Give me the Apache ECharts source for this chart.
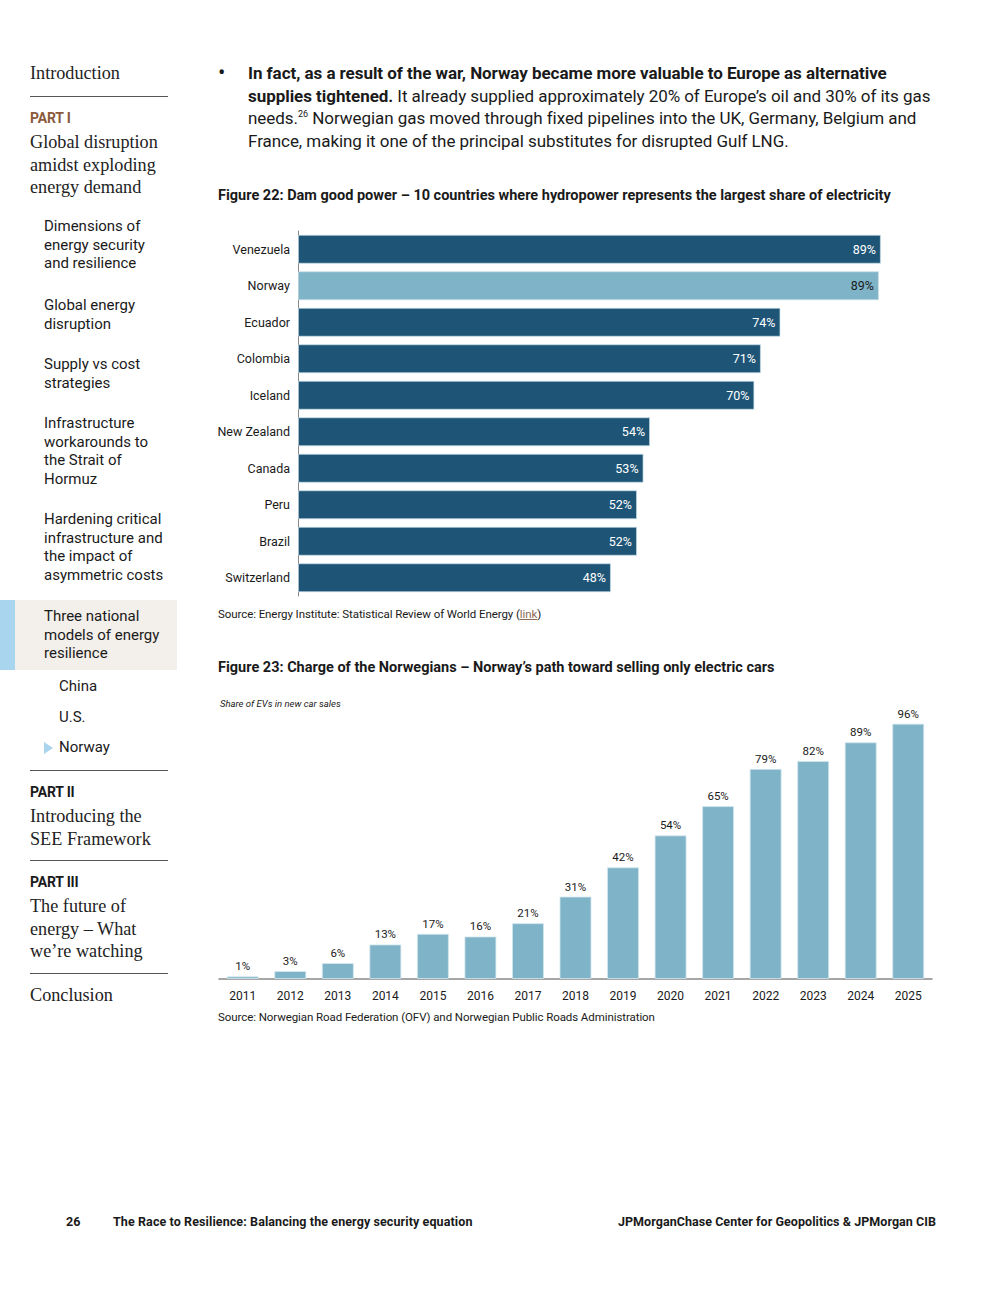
<!DOCTYPE html>
<html>
<head>
<meta charset="utf-8">
<script src="https://cdn.jsdelivr.net/npm/echarts@6/dist/echarts.min.js"></script>
<style>
  html, body { margin:0; padding:0; background:#fff; }
  body { width:1000px; height:1293px; position:relative; overflow:hidden; font-family: Roboto, "Liberation Sans", sans-serif; color:#1a1a1a; }
  #chart { position:absolute; left:0; top:0; width:1000px; height:1293px; }
  .t { position:absolute; white-space:nowrap; }
  .serif { font-family: "Liberation Serif", "DejaVu Serif", serif; font-size:18.2px; line-height:22.5px; color:#222; }
  .nav { font-size:15px; line-height:18.6px; color:#1a1a1a; left:44px; }
  .part { font-size:14px; font-weight:bold; left:30px; letter-spacing:-0.2px; }
  .rule { position:absolute; left:30px; width:138px; height:0; border-top:1.5px solid #555; }
</style>
</head>
<body>
<div id="chart"></div>

<!-- sidebar -->
<div class="t serif" style="left:30px;top:62px;">Introduction</div>
<div class="rule" style="top:96px;"></div>
<div class="t part" style="top:110px;color:#8b5a3c;">PART I</div>
<div class="t serif" style="left:30px;top:131px;">Global disruption<br>amidst exploding<br>energy demand</div>
<div class="t nav" style="top:217px;">Dimensions of<br>energy security<br>and resilience</div>
<div class="t nav" style="top:296px;">Global energy<br>disruption</div>
<div class="t nav" style="top:355px;">Supply vs cost<br>strategies</div>
<div class="t nav" style="top:414px;">Infrastructure<br>workarounds to<br>the Strait of<br>Hormuz</div>
<div class="t nav" style="top:510px;">Hardening critical<br>infrastructure and<br>the impact of<br>asymmetric costs</div>
<div style="position:absolute;left:0;top:600px;width:177px;height:70px;background:#f3efea;"></div>
<div style="position:absolute;left:0;top:600px;width:15px;height:70px;background:#a9d5ee;"></div>
<div class="t nav" style="top:607px;">Three national<br>models of energy<br>resilience</div>
<div class="t nav" style="top:677px;left:59px;">China</div>
<div class="t nav" style="top:708px;left:59px;">U.S.</div>
<div style="position:absolute;left:44px;top:742px;width:0;height:0;border-top:6px solid transparent;border-bottom:6px solid transparent;border-left:9px solid #a9d5ee;"></div>
<div class="t nav" style="top:738px;left:59px;">Norway</div>
<div class="rule" style="top:770px;"></div>
<div class="t part" style="top:784px;color:#1a1a1a;">PART II</div>
<div class="t serif" style="left:30px;top:805px;">Introducing the<br>SEE Framework</div>
<div class="rule" style="top:860px;"></div>
<div class="t part" style="top:874px;color:#1a1a1a;">PART III</div>
<div class="t serif" style="left:30px;top:895px;">The future of<br>energy – What<br>we’re watching</div>
<div class="rule" style="top:973px;"></div>
<div class="t serif" style="left:30px;top:984px;">Conclusion</div>

<!-- body text -->
<div class="t" style="left:218px;top:60px;font-size:22px;">•</div>
<div class="t" style="left:248px;top:62px;font-size:17px;line-height:22.7px;letter-spacing:-0.05px;">
<b>In fact, as a result of the war, Norway became more valuable to Europe as alternative</b><br>
<b>supplies tightened.</b> It already supplied approximately 20% of Europe’s oil and 30% of its gas<br>
needs.<sup style="font-size:9px;line-height:0;">26</sup> Norwegian gas moved through fixed pipelines into the UK, Germany, Belgium and<br>
France, making it one of the principal substitutes for disrupted Gulf LNG.
</div>
<div class="t" style="left:218px;top:187px;font-size:14.5px;font-weight:bold;letter-spacing:0px;">Figure 22: Dam good power – 10 countries where hydropower represents the largest share of electricity</div>
<div class="t" style="left:218px;top:607px;font-size:11.5px;letter-spacing:-0.08px;">Source: Energy Institute: Statistical Review of World Energy (<span style="text-decoration:underline;color:#8b6a55;">link</span>)</div>
<div class="t" style="left:218px;top:659px;font-size:14.5px;font-weight:bold;letter-spacing:0px;">Figure 23: Charge of the Norwegians – Norway’s path toward selling only electric cars</div>
<div class="t" style="left:220px;top:698px;font-size:9.5px;font-style:italic;">Share of EVs in new car sales</div>
<div class="t" style="left:218px;top:1010px;font-size:11.5px;letter-spacing:-0.08px;">Source: Norwegian Road Federation (OFV) and Norwegian Public Roads Administration</div>

<!-- footer -->
<div class="t" style="left:66px;top:1214px;font-size:12.5px;font-weight:bold;">26</div>
<div class="t" style="left:113px;top:1214px;font-size:12.5px;font-weight:bold;letter-spacing:0.1px;">The Race to Resilience: Balancing the energy security equation</div>
<div class="t" style="right:64px;top:1214px;font-size:12.5px;font-weight:bold;letter-spacing:0.05px;">JPMorganChase Center for Geopolitics &amp; JPMorgan CIB</div>

<script>
// Figure 22: hydropower share of electricity (%)
const countries = ['Venezuela','Norway','Ecuador','Colombia','Iceland','New Zealand','Canada','Peru','Brazil','Switzerland']
const hydroShare = [89.4, 89.1, 74, 71, 70, 54, 53, 52, 52, 48]
const highlight = 'Norway'

// Figure 23: Norway EV share of new car sales (%)
const years = ['2011','2012','2013','2014','2015','2016','2017','2018','2019','2020','2021','2022','2023','2024','2025']
const evShare = [1, 3, 6, 13, 17, 16, 21, 31, 42, 54, 65, 79, 82, 89, 96]

const dark = '#1e5577'
const light = '#7fb4c8'

let chart = echarts.init(document.getElementById('chart'), null, {renderer:'svg'})
chart.setOption({
  animation:false,
  textStyle:{fontFamily:'Roboto, "Liberation Sans", sans-serif'},
  grid:[
    {left:298, top:231, width:652, height:365},
    {left:219, top:713, width:713, height:266}
  ],
  xAxis:[
    {gridIndex:0, type:'value', min:0, max:100, show:false},
    {gridIndex:1, type:'category', data:years,
      axisLine:{lineStyle:{color:'#888', width:1.5}}, axisTick:{show:false},
      axisLabel:{color:'#1a1a1a', fontSize:12, margin:11}}
  ],
  yAxis:[
    {gridIndex:0, type:'category', data:countries, inverse:true,
      axisLine:{show:true, lineStyle:{color:'#888', width:1}}, axisTick:{show:false},
      axisLabel:{color:'#1a1a1a', fontSize:12.5, margin:8}},
    {gridIndex:1, type:'value', min:0, max:100, show:false}
  ],
  series:[
    {
      type:'bar', xAxisIndex:0, yAxisIndex:0, barWidth:29,
      data:hydroShare.map((v,i)=>({
        value:v,
        itemStyle:{color: countries[i]==highlight ? light : dark},
        label:{color: countries[i]==highlight ? '#1a1a1a' : '#fff'}
      })),
      itemStyle:{borderColor:'rgba(200,222,232,0.7)', borderWidth:1},
      label:{show:true, position:'insideRight', distance:5, fontSize:12.5,
        formatter:p=>Math.round(p.value)+'%'}
    },
    {
      type:'bar', xAxisIndex:1, yAxisIndex:1, barWidth:32,
      data:evShare,
      itemStyle:{color:light, borderColor:'rgba(210,230,238,0.8)', borderWidth:1},
      label:{show:true, position:'top', distance:4, fontSize:11.5, color:'#1a1a1a',
        formatter:'{c}%'}
    }
  ]
})
</script>
</body>
</html>
